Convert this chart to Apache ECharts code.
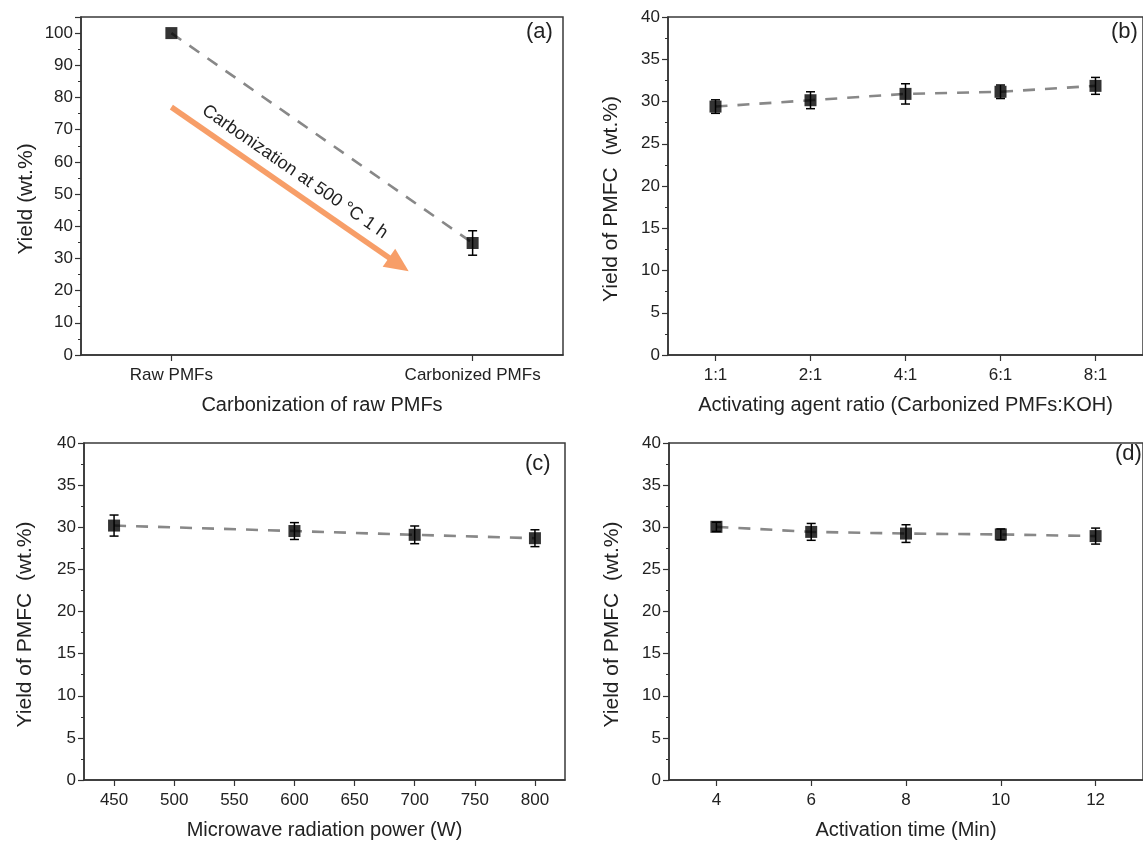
<!DOCTYPE html>
<html>
<head>
<meta charset="utf-8">
<script src="https://cdn.jsdelivr.net/npm/echarts@6/dist/echarts.min.js"></script>
<style>
  html, body { margin: 0; padding: 0; background: #fff; }
  #chart { width: 1143px; height: 841px; }
</style>
</head>
<body>
<div id="chart"></div>
<script>
// (a) carbonization
var aCats = ["Raw PMFs", "Carbonized PMFs"];
var aX = [1, 2];
var aYield = [100, 34.8];
var aErr = [0, 3.8];
var arrowFrom = [1.0, 77];
var arrowTo = [1.755, 28.1];

// (b) activating agent ratio
var bRatios = ["1:1", "2:1", "4:1", "6:1", "8:1"];
var bYield = [29.4, 30.15, 30.9, 31.15, 31.85];
var bErr = [0.8, 1.0, 1.2, 0.8, 1.0];

// (c) microwave power
var cPower = [450, 600, 700, 800];
var cYield = [30.2, 29.55, 29.1, 28.7];
var cErr = [1.25, 1.0, 1.05, 1.0];
var cTicks = [450, 500, 550, 600, 650, 700, 750, 800];

// (d) activation time
var dTime = [4, 6, 8, 10, 12];
var dYield = [30.05, 29.45, 29.25, 29.15, 28.95];
var dErr = [0.55, 1.0, 1.05, 0.65, 0.95];
var dTicks = [4, 6, 8, 10, 12];

var yTicksA = [0, 10, 20, 30, 40, 50, 60, 70, 80, 90, 100];

var FONT = "'Liberation Sans', Arial, sans-serif";
var AX = "#333";
var TXT = "#222";

var mycharts = echarts.init(document.getElementById("chart"));

function pairs(xs, ys) {
  return xs.map(function (x, i) { return [x, ys[i]]; });
}
function triples(xs, ys, es) {
  return xs.map(function (x, i) { return [x, ys[i], es[i]]; });
}

// error bars drawn through the axes
function errRender(params, api) {
  var x = api.value(0), y = api.value(1), e = api.value(2);
  if (!e) return null;
  var top = api.coord([x, y + e]);
  var bot = api.coord([x, y - e]);
  var cap = 4.5;
  var st = { stroke: "#000", lineWidth: 1.5 };
  return {
    type: "group",
    children: [
      { type: "line", shape: { x1: top[0], y1: top[1], x2: bot[0], y2: bot[1] }, style: st },
      { type: "line", shape: { x1: top[0] - cap, y1: top[1], x2: top[0] + cap, y2: top[1] }, style: st },
      { type: "line", shape: { x1: bot[0] - cap, y1: bot[1], x2: bot[0] + cap, y2: bot[1] }, style: st }
    ]
  };
}

function yAxisOf(i, name, gap, max, interval, labels) {
  var ax = {
    type: "value",
    gridIndex: i,
    min: 0,
    max: max,
    interval: interval,
    name: name,
    nameLocation: "middle",
    nameGap: gap,
    nameTextStyle: { fontFamily: FONT, fontSize: 21, color: TXT, padding: [0, 26, 0, 0] },
    axisLine: { show: true, lineStyle: { color: AX, width: 1.5 } },
    axisTick: { show: true, length: 6, lineStyle: { color: AX, width: 1.2 } },
    minorTick: { show: true, splitNumber: 2, length: 3, lineStyle: { color: AX, width: 1 } },
    axisLabel: { fontFamily: FONT, fontSize: 17, color: TXT, margin: 8 },
    splitLine: { show: false }
  };
  if (labels) {
    ax.axisLabel.customValues = labels;
  }
  return ax;
}

function xBase(i, name, gap) {
  return {
    gridIndex: i,
    name: name,
    nameLocation: "middle",
    nameGap: gap,
    nameTextStyle: { fontFamily: FONT, fontSize: 20, color: TXT },
    axisLine: { show: true, onZero: false, lineStyle: { color: AX, width: 1.5 } },
    axisTick: { show: true, length: 6, lineStyle: { color: AX, width: 1.2 } },
    axisLabel: { fontFamily: FONT, fontSize: 17, color: TXT, margin: 12 },
    splitLine: { show: false }
  };
}

var xa = xBase(0, "Carbonization of raw PMFs", 40);
xa.type = "value";
xa.min = 0.7;
xa.max = 2.3;
xa.axisTick.customValues = aX;
xa.axisLabel.customValues = aX;
xa.axisLabel.formatter = function (v) {
  var k = aX.indexOf(Math.round(v));
  return k >= 0 ? aCats[k] : "";
};

var xb = xBase(1, "Activating agent ratio (Carbonized PMFs:KOH)", 40);
xb.type = "category";
xb.data = bRatios;
xb.boundaryGap = true;
xb.axisTick.alignWithLabel = true;

var xc = xBase(2, "Microwave radiation power (W)", 40);
xc.type = "value";
xc.min = 425;
xc.max = 825;
xc.axisTick.customValues = cTicks;
xc.axisLabel.customValues = cTicks;

var xd = xBase(3, "Activation time (Min)", 40);
xd.type = "value";
xd.min = 3;
xd.max = 13;
xd.axisTick.customValues = dTicks;
xd.axisLabel.customValues = dTicks;

var gridStyle = { show: true, borderColor: "#3a3a3a", borderWidth: 1.5, backgroundColor: "transparent" };

var dashStyle = { color: "#888", width: 2.6, type: [12, 10] };

function lineSeries(i, data) {
  return {
    type: "line", xAxisIndex: i, yAxisIndex: i, data: data,
    showSymbol: false, symbol: "none", silent: true,
    lineStyle: dashStyle, z: 2
  };
}
function errSeries(i, data) {
  return {
    type: "custom", xAxisIndex: i, yAxisIndex: i, data: data,
    renderItem: errRender, silent: true, z: 3
  };
}
function dotSeries(i, data) {
  return {
    type: "scatter", xAxisIndex: i, yAxisIndex: i, data: data,
    symbol: "rect", symbolSize: 12, itemStyle: { color: "#000" }, silent: true, z: 4
  };
}

var bIdx = bRatios.map(function (r, i) { return i; });

var lineA = lineSeries(0, pairs(aX, aYield));
lineA.markLine = {
  silent: true,
  symbol: ["none", "triangle"],
  symbolSize: [22, 24],
  lineStyle: { color: "#f79e68", width: 5.5, type: "solid" },
  label: {
    show: true,
    position: "insideMiddleTop",
    distance: 8,
    formatter: "Carbonization at 500 \u00B0C 1 h",
    fontFamily: FONT,
    fontSize: 18,
    color: TXT
  },
  data: [[{ coord: arrowFrom }, { coord: arrowTo }]]
};

var panelTitle = function (txt, left, top) {
  return {
    text: txt, left: left, top: top, padding: 0,
    textStyle: { fontFamily: FONT, fontSize: 22, fontWeight: "normal", color: TXT }
  };
};

var option = {
  animation: false,
  backgroundColor: "#fff",
  title: [
    panelTitle("(a)", 526, 21),
    panelTitle("(b)", 1111, 21),
    panelTitle("(c)", 525, 453),
    panelTitle("(d)", 1115, 443)
  ],
  grid: [
    Object.assign({ left: 81, top: 17, width: 482, height: 338 }, gridStyle),
    Object.assign({ left: 668, top: 17, width: 481, height: 338 }, gridStyle),
    Object.assign({ left: 84, top: 443, width: 481, height: 337 }, gridStyle),
    Object.assign({ left: 669, top: 443, width: 482, height: 337 }, gridStyle)
  ],
  xAxis: [xa, xb, xc, xd],
  yAxis: [
    yAxisOf(0, "Yield (wt.%)", 44, 105, 10, yTicksA),
    yAxisOf(1, "Yield of PMFC  (wt.%)", 46, 40, 5),
    yAxisOf(2, "Yield of PMFC  (wt.%)", 48, 40, 5),
    yAxisOf(3, "Yield of PMFC  (wt.%)", 46, 40, 5)
  ],
  series: [
    lineA,
    errSeries(0, triples(aX, aYield, aErr)),
    dotSeries(0, pairs(aX, aYield)),

    lineSeries(1, pairs(bIdx, bYield)),
    errSeries(1, triples(bIdx, bYield, bErr)),
    dotSeries(1, pairs(bIdx, bYield)),

    lineSeries(2, pairs(cPower, cYield)),
    errSeries(2, triples(cPower, cYield, cErr)),
    dotSeries(2, pairs(cPower, cYield)),

    lineSeries(3, pairs(dTime, dYield)),
    errSeries(3, triples(dTime, dYield, dErr)),
    dotSeries(3, pairs(dTime, dYield))
  ]
};
mycharts.setOption(option);
</script>
</body>
</html>
